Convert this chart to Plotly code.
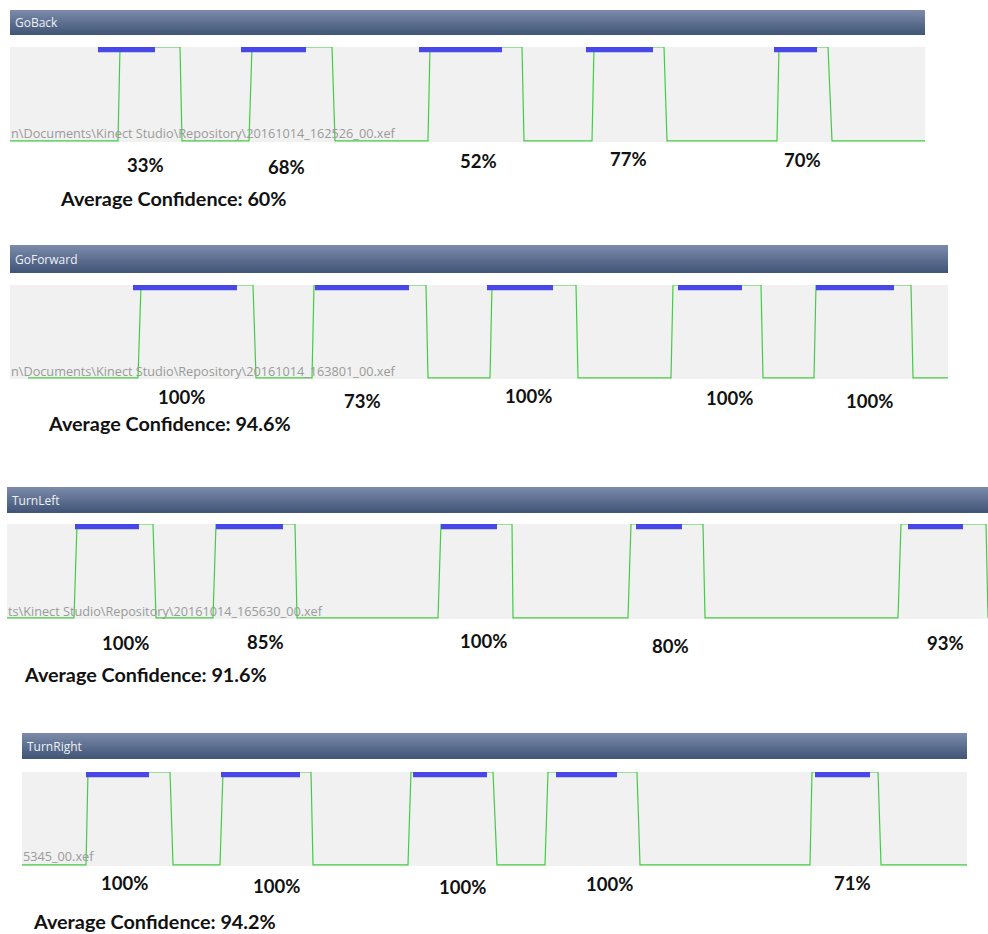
import plotly.graph_objects as go

# ---------------- data (timeline units, measured from each track's left edge) ----------------
gesture_names = ["GoBack", "GoForward", "TurnLeft", "TurnRight"]
file_paths = [
    "n\\Documents\\Kinect Studio\\Repository\\20161014_162526_00.xef",
    "n\\Documents\\Kinect Studio\\Repository\\20161014_163801_00.xef",
    "ts\\Kinect Studio\\Repository\\20161014_165630_00.xef",
    "5345_00.xef",
]
timeline_length = [915, 938, 981, 945]
timeline_first = [0, 18, 0, 0]

# green confidence trace: rising edge (bottom, top) and falling edge (top, bottom)
rise_low = [[108, 239, 418, 582, 767], [128, 302, 480, 661, 804],
            [67, 206, 431, 621, 891], [64, 198, 386, 523, 788]]
rise_high = [[110, 242, 420, 584, 769], [131, 304, 482, 663, 806],
             [70, 209, 434, 624, 894], [66, 201, 389, 526, 790]]
fall_high = [[170, 322, 512, 654, 818], [243, 416, 566, 751, 901],
             [146, 288, 505, 696, 979], [148, 289, 471, 615, 856]]
fall_low = [[172, 325, 514, 657, 822], [246, 418, 568, 753, 903],
            [149, 290, 506, 698, 981], [151, 291, 475, 618, 859]]

# blue detection bars
detect_start = [[88, 231, 409, 576, 764], [123, 305, 477, 668, 806],
                [68, 209, 434, 629, 901], [64, 199, 391, 534, 793]]
detect_end = [[145, 296, 492, 643, 807], [227, 399, 543, 732, 884],
              [132, 276, 490, 675, 956], [127, 278, 465, 595, 848]]

confidence = [[33, 68, 52, 77, 70], [100, 73, 100, 100, 100],
              [100, 85, 100, 80, 93], [100, 100, 100, 100, 71]]
average_confidence = ["60%", "94.6%", "91.6%", "94.2%"]

# ---------------- layout (pixel placement of each panel) ----------------
W, H = 988, 934
panel_left = [10, 10, 7, 22]
panel_right = [925, 948, 988, 967]
header_top = [10, 245, 487, 733]
header_bottom = [35, 273, 513, 759]
track_top = [47, 285, 524, 772]
track_bottom = [142, 379, 619, 866]
label_x = [[135, 276, 468, 618, 792], [171, 352, 518, 719, 859],
           [118, 258, 476, 663, 938], [102, 254, 440, 587, 830]]
label_y = [[165, 167, 161, 159, 160], [397, 401, 396, 398, 401],
           [643, 642, 641, 646, 643], [883, 886, 887, 884, 883]]
avg_x = [60, 48, 24, 33]
avg_y = [198, 423, 674, 921]
path_y = [133, 371, 611, 856]

GREEN = "#44cc44"
BLUE = "#4848e8"
PX = lambda v: v / W
PY = lambda v: 1 - v / H

fig = go.Figure()
shapes = []
annotations = []
YR = [-0.012, 1.0]


def lerp(c1, c2, t):
    return "rgb(%d,%d,%d)" % tuple(round(a + (b - a) * t) for a, b in zip(c1, c2))


for i, name in enumerate(gesture_names):
    k = "" if i == 0 else str(i + 1)
    # green step trace
    xs, ys = [timeline_first[i]], [0]
    for rl, rh, fh, fl in zip(rise_low[i], rise_high[i], fall_high[i], fall_low[i]):
        xs += [rl, rh, fh, fl]
        ys += [0, 1, 1, 0]
    xs.append(timeline_length[i])
    ys.append(0)
    fig.add_trace(go.Scatter(x=xs, y=ys, mode="lines", xaxis="x" + k, yaxis="y" + k,
                             line=dict(color=GREEN, width=1.2), hoverinfo="skip",
                             showlegend=False))
    # blue detection bars
    h = track_bottom[i] - track_top[i]
    ybar = YR[1] - 2.6 * (YR[1] - YR[0]) / h
    bx, by = [], []
    for s, e in zip(detect_start[i], detect_end[i]):
        bx += [s, e, None]
        by += [ybar, ybar, None]
    fig.add_trace(go.Scatter(x=bx, y=by, mode="lines", xaxis="x" + k, yaxis="y" + k,
                             line=dict(color=BLUE, width=5.2), hoverinfo="skip",
                             showlegend=False))

    fig.update_layout(**{
        "xaxis" + k: dict(domain=[PX(panel_left[i]), PX(panel_right[i])],
                          range=[0, panel_right[i] - panel_left[i]], visible=False,
                          fixedrange=True, anchor="y" + k),
        "yaxis" + k: dict(domain=[PY(track_bottom[i]), PY(track_top[i])],
                          range=YR, visible=False, fixedrange=True, anchor="x" + k),
    })

    # header bar gradient (each band painted from its top down to the bar bottom)
    n = 12
    top, bot = header_top[i], header_bottom[i]
    for j in range(n):
        y0 = top + (bot - top) * j / n
        shapes.append(dict(type="rect", xref="paper", yref="paper",
                           x0=PX(panel_left[i]), x1=PX(panel_right[i]),
                           y0=PY(bot), y1=PY(y0), line=dict(width=0),
                           fillcolor=lerp((122, 137, 168), (66, 86, 120), j / (n - 1)),
                           layer="below"))
    annotations.append(dict(text=name, xref="paper", yref="paper",
                            x=PX(panel_left[i] + 3), y=PY((top + bot) / 2),
                            xanchor="left", yanchor="middle", showarrow=False,
                            font=dict(family="Open Sans", size=12, color="#eef1f7")))
    # file path watermark
    annotations.append(dict(text=file_paths[i], xref="paper", yref="paper",
                            x=PX(panel_left[i] - 1), y=PY(path_y[i]),
                            xanchor="left", yanchor="middle", showarrow=False,
                            font=dict(family="Open Sans", size=12.7, color="#9a9a9a")))
    # confidence labels
    for c, lx, ly in zip(confidence[i], label_x[i], label_y[i]):
        annotations.append(dict(text="<b>%d%%</b>" % c, xref="x" + k, yref="paper",
                                x=lx, y=PY(ly), xanchor="center", yanchor="middle",
                                showarrow=False,
                                font=dict(family="Lato", size=18.5, color="#111111")))
    annotations.append(dict(text="<b>Average Confidence: %s</b>" % average_confidence[i],
                            xref="paper", yref="paper", x=PX(avg_x[i] - 2), y=PY(avg_y[i]),
                            xanchor="left", yanchor="middle", showarrow=False,
                            font=dict(family="Lato", size=19.8, color="#111111")))

fig.update_layout(width=W, height=H, margin=dict(l=0, r=0, t=0, b=0),
                  paper_bgcolor="white", plot_bgcolor="#f1f1f1",
                  shapes=shapes, annotations=annotations)

fig.write_html("out.html", config={"displayModeBar": False},
               post_script="document.body.style.margin='0';")
